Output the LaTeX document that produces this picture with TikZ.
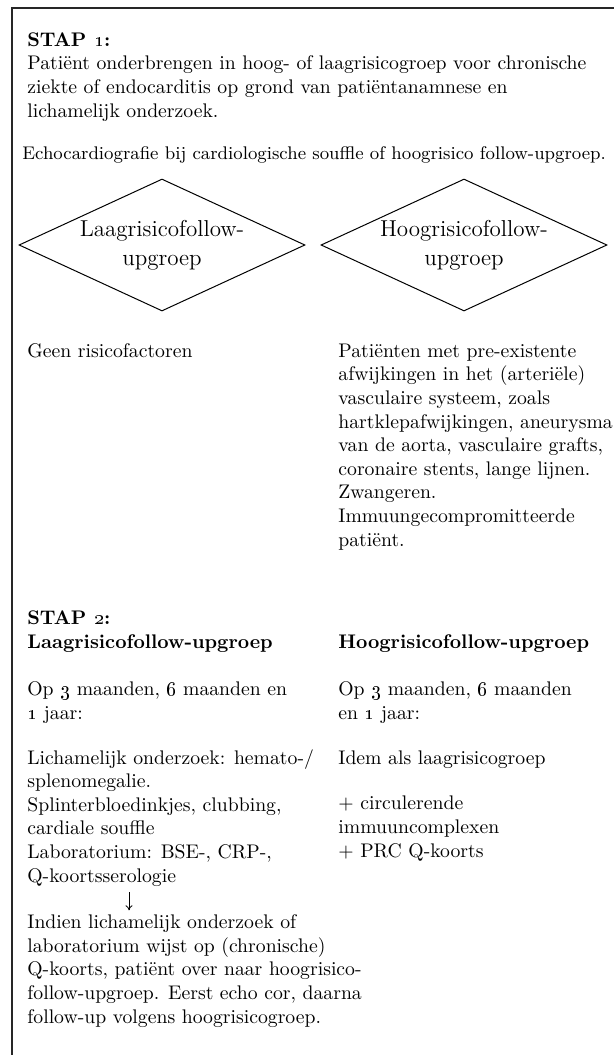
\documentclass[tikz,border=0pt]{standalone}
\usetikzlibrary{arrows.meta,shapes.geometric}

\begin{document}
\begin{tikzpicture}[
  x=0.5pt, y=-0.5pt,
  bodytext/.style={anchor=base west, align=left, inner sep=0pt,
                   font=\fontsize{9.85}{11.8}\selectfont},
  heading/.style={bodytext, font=\fontsize{9.85}{11.8}\selectfont\bfseries},
  echotext/.style={anchor=base west, inner sep=0pt,
                   font=\fontsize{9.15}{11.2}\selectfont},
  groupbox/.style={diamond, draw, line width=0.5pt, inner sep=0pt, aspect=2.17,
                   minimum width=143pt, minimum height=66pt, align=center,
                   font=\fontsize{11.5}{14.5}\selectfont},
  frame/.style={line width=0.6pt, draw=black!85},
  downarrow/.style={-{To[length=2.5pt,width=3.5pt]}, line width=0.4pt,
                    shorten <=3pt, shorten >=2pt},
]
  \useasboundingbox (0,0) rectangle (614,1055);
  \draw[frame] (614,8) -- (12,8) -- (12,1055);

  % stap 1 (multi-line nodes sit on the baseline of their last line)
  \node[heading] (stapone) at (27,46) {STAP \oldstylenums{1}:};
  \node[bodytext] (intro) at (27,117) {Patiënt onderbrengen in hoog- of laagrisicogroep voor chronische\\ziekte of endocarditis op grond van patiëntanamnese en\\lichamelijk onderzoek.};
  \node[echotext] (echo) at (22,159) {Echocardiografie bij cardiologische souffle of hoogrisico follow-upgroep.};

  \node[groupbox] (laag) at (162,245) {Laagrisicofollow-\\upgroep};
  \node[groupbox] (hoog) at (464,245) {Hoogrisicofollow-\\upgroep};

  \node[bodytext] (geen) at (27,357) {Geen risicofactoren};
  \node[bodytext] (patienten) at (338,546) {Patiënten met pre-existente\\afwijkingen in het (arteriële)\\vasculaire systeem, zoals\\hartklepafwijkingen, aneurysma\\van de aorta, vasculaire grafts,\\coronaire stents, lange lijnen.\\Zwangeren.\\Immuungecompromitteerde\\patiënt.};

  % stap 2
  \node[heading] (staptwo) at (27,648) {STAP \oldstylenums{2}:\\Laagrisicofollow-upgroep};
  \node[heading] (hooghead) at (338,648) {Hoogrisicofollow-upgroep};
  \node[bodytext] (laagtijd) at (27,719) {Op \oldstylenums{3} maanden, \oldstylenums{6} maanden en\\\oldstylenums{1} jaar:};
  \node[bodytext] (hoogtijd) at (338,719) {Op \oldstylenums{3} maanden, \oldstylenums{6} maanden\\en \oldstylenums{1} jaar:};
  \node[bodytext] (onderzoek) at (27,882) {Lichamelijk onderzoek: hemato-/\\splenomegalie.\\Splinterbloedinkjes, clubbing,\\cardiale souffle\\Laboratorium: BSE-, CRP-,\\Q-koortsserologie};
  \node[bodytext] (idem) at (338,764) {Idem als laagrisicogroep};
  \node[bodytext] (extra) at (338,857) {+ circulerende\\immuuncomplexen\\+ PRC Q-koorts};
  \node[bodytext] (indien) at (27,1023) {Indien lichamelijk onderzoek of\\laboratorium wijst op (chronische)\\Q-koorts, patiënt over naar hoogrisico-\\follow-upgroep. Eerst echo cor, daarna\\follow-up volgens hoogrisicogroep.};

  \coordinate (pijlkolom) at (129,0);
  \draw[downarrow] (onderzoek.south -| pijlkolom) -- (indien.north -| pijlkolom);
\end{tikzpicture}
\end{document}
